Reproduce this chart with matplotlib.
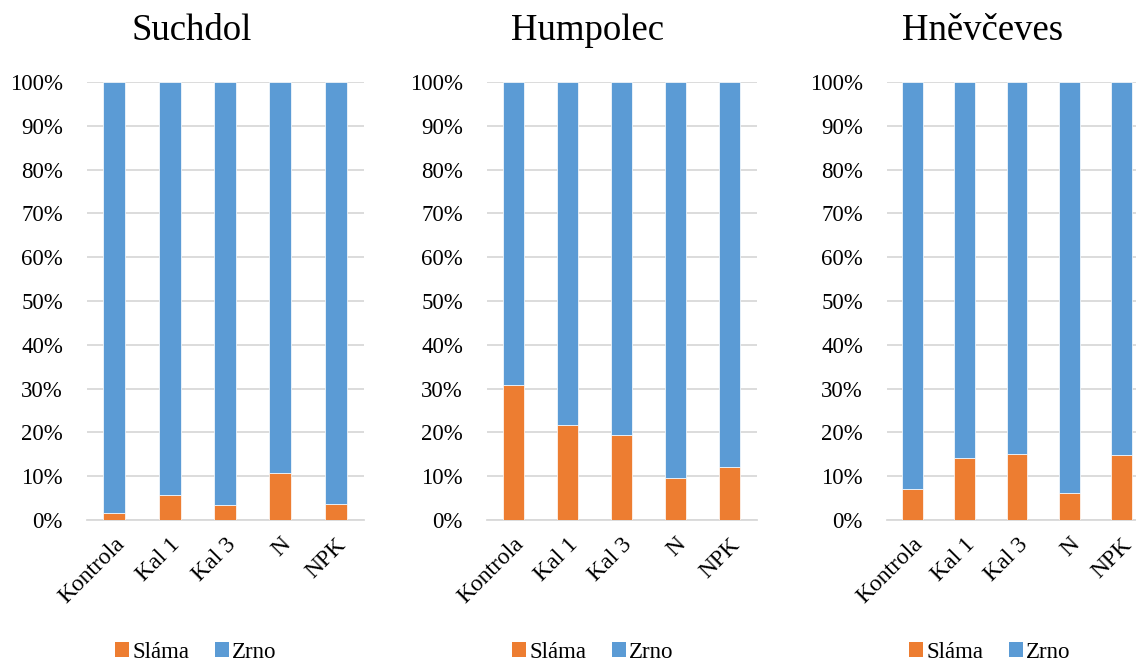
import matplotlib
matplotlib.use("Agg")
import matplotlib.pyplot as plt
from matplotlib.patches import Patch
from matplotlib.ticker import PercentFormatter

plt.rcParams["font.family"] = ["Liberation Serif", "DejaVu Serif"]

categories = ["Kontrola", "Kal 1", "Kal 3", "N", "NPK"]
sites = ["Suchdol", "Humpolec", "Hněvčeves"]

# Share of straw (Sláma) in percent; grain (Zrno) makes up the rest to 100 %
slama_suchdol = [1.6, 5.8, 3.5, 10.7, 3.6]
slama_humpolec = [30.9, 21.6, 19.5, 9.7, 12.2]
slama_hnevceves = [7.1, 14.2, 15.1, 6.2, 14.8]

zrno_suchdol = [100 - v for v in slama_suchdol]
zrno_humpolec = [100 - v for v in slama_humpolec]
zrno_hnevceves = [100 - v for v in slama_hnevceves]

slama_all = [slama_suchdol, slama_humpolec, slama_hnevceves]
zrno_all = [zrno_suchdol, zrno_humpolec, zrno_hnevceves]

ORANGE = "#ED7D31"
BLUE = "#5B9BD5"
GRID = "#D9D9D9"
FS = 16.5

W, H = 1136, 665
fig = plt.figure(figsize=(W / 100, H / 100), dpi=100)

# axes rectangles in pixels: (left, width); shared top/bottom
panels = [(86.5, 277), (486.5, 270), (886.5, 261)]
title_x = [192, 588, 983]
legend_x = [196, 593, 990]
top_px, bottom_px = 82, 520

for i, (left, width) in enumerate(panels):
    ax = fig.add_axes([left / W, 1 - bottom_px / H, width / W,
                       (bottom_px - top_px) / H])
    x = range(len(categories))
    ax.bar(x, slama_all[i], width=0.4, color=ORANGE, edgecolor="white",
           linewidth=0.5, zorder=3)
    ax.bar(x, zrno_all[i], width=0.4, bottom=slama_all[i], color=BLUE,
           edgecolor="white", linewidth=0.5, zorder=3)
    ax.set_xlim(-0.5, len(categories) - 0.5)
    ax.set_ylim(0, 100)
    ax.set_yticks(range(0, 101, 10))
    ax.yaxis.set_major_formatter(PercentFormatter(decimals=0))
    ax.yaxis.grid(True, color=GRID, linewidth=1.3, zorder=0)
    ax.set_axisbelow(True)
    for s in ["top", "right", "left"]:
        ax.spines[s].set_visible(False)
    ax.spines["bottom"].set_color(GRID)
    ax.spines["bottom"].set_linewidth(1.3)
    ax.tick_params(axis="both", length=0, labelsize=FS, colors="black")
    ax.tick_params(axis="y", pad=17)
    ax.set_xticks(list(x))
    ax.set_xticklabels(categories, rotation=45, ha="right", va="top",
                       rotation_mode="anchor", fontsize=17)
    ax.tick_params(axis="x", pad=10)

    fig.text(title_x[i] / W, 1 - 40 / H, sites[i], ha="center",
             va="baseline", fontsize=26.5)

    handles = [Patch(facecolor=ORANGE, edgecolor="none", label="Sláma"),
               Patch(facecolor=BLUE, edgecolor="none", label="Zrno")]
    fig.legend(handles=handles, loc="center", ncol=2, frameon=False,
               bbox_to_anchor=(legend_x[i] / W, 1 - 652 / H),
               fontsize=FS, handlelength=0.6, handleheight=0.6,
               handletextpad=0.15, columnspacing=1.1)

fig.savefig("out.png", dpi=100)
